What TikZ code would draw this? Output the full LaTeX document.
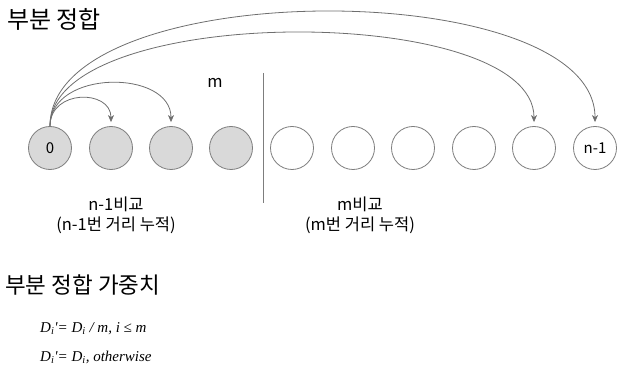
\documentclass[tikz,border=0pt]{standalone}
\usepackage{fontspec}
\setmainfont{Noto Sans CJK KR}
\newfontfamily\tnr{Liberation Serif}
\usetikzlibrary{arrows.meta}
\definecolor{edgegray}{RGB}{125,125,125}
\definecolor{fillgray}{RGB}{217,217,217}
\definecolor{arcgray}{RGB}{110,110,110}
\begin{document}
\begin{tikzpicture}[x=1pt,y=-1pt,
  ball/.style={circle,draw=edgegray,line width=0.8pt,minimum size=43pt,inner sep=0pt,font=\fontsize{15}{17}\selectfont},
  done/.style={ball,fill=fillgray},
  arc/.style={draw=arcgray,line width=0.8pt,-{Stealth[length=7pt,width=6pt,inset=2pt]},shorten >=4pt},
  lbl/.style={font=\fontsize{16.5}{20}\selectfont,align=center,inner sep=0pt}]
\useasboundingbox (0,0) rectangle (617,371);
\node[anchor=west,inner sep=0pt,font=\fontsize{24}{28}\selectfont] (t1) at (7,19) {부분 정합};
\node[done] (c0) at (50,148) {0};
\node[done] (c1) at (111,148) {};
\node[done] (c2) at (171,148) {};
\node[done] (c3) at (231,148) {};
\node[ball] (c4) at (292,148) {};
\node[ball] (c5) at (353,148) {};
\node[ball] (c6) at (413,148) {};
\node[ball] (c7) at (474,148) {};
\node[ball] (c8) at (534,148) {};
\node[ball] (c9) at (595,148) {n-1};
\coordinate (d1) at (263,73);
\coordinate (d2) at (263,203);
\draw[edgegray,line width=0.8pt] (d1) -- (d2);
\node[lbl] (m) at (215,83) {m};
\draw[arc] (c0.north) .. controls +(0,-37) and +(0,-37) .. (c1.north);
\draw[arc] (c0.north) .. controls +(0,-57) and +(0,-57) .. (c2.north);
\draw[arc] (c0.north) .. controls +(0,-124) and +(0,-124) .. (c8.north);
\draw[arc] (c0.north) .. controls +(0,-152) and +(0,-152) .. (c9.north);
\node[lbl] (l1) at (116,215) {n-1비교\\(n-1번 거리 누적)};
\node[lbl] (l2) at (360,215) {m비교\\(m번 거리 누적)};
\node[anchor=west,inner sep=0pt,font=\fontsize{22.5}{26}\selectfont] (t2) at (5,285) {부분 정합 가중치};
\node[anchor=west,inner sep=0pt,font=\tnr\itshape\fontsize{15}{18}\selectfont] (f1) at (40,329) {D\textsubscript{i}'= D\textsubscript{i} / m, i ≤ m};
\node[anchor=west,inner sep=0pt,font=\tnr\itshape\fontsize{15}{18}\selectfont] (f2) at (40,357) {D\textsubscript{i}'= D\textsubscript{i}, otherwise};
\end{tikzpicture}
\end{document}
